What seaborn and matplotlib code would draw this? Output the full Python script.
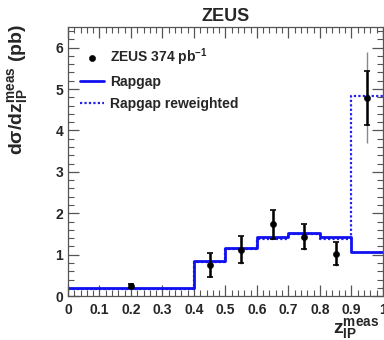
import numpy as np
import pandas as pd
import matplotlib
matplotlib.use("Agg")
import matplotlib.pyplot as plt
import seaborn as sns
from matplotlib.ticker import MultipleLocator

# ---- data ----
bin_edges = [0.0, 0.4, 0.5, 0.6, 0.7, 0.8, 0.9, 1.0]
rapgap = [0.185, 0.85, 1.15, 1.42, 1.53, 1.42, 1.07]
rapgap_rw = [0.18, 0.82, 1.13, 1.38, 1.50, 1.39, 4.83]
data_x = [0.2, 0.45, 0.55, 0.65, 0.75, 0.85, 0.95]
data_y = [0.25, 0.75, 1.12, 1.73, 1.43, 1.02, 4.79]
stat_err = [0.05, 0.29, 0.33, 0.35, 0.30, 0.28, 0.65]
tot_err = [0.06, 0.30, 0.34, 0.36, 0.31, 0.29, 1.10]

sns.set_style("ticks")
plt.rcParams['font.family'] = ['Liberation Sans', 'DejaVu Sans']
plt.rcParams['font.weight'] = 'bold'
plt.rcParams['mathtext.fontset'] = 'custom'
plt.rcParams['mathtext.rm'] = 'Liberation Sans:bold'
plt.rcParams['mathtext.it'] = 'Liberation Sans:bold'
plt.rcParams['mathtext.bf'] = 'Liberation Sans:bold'

fig = plt.figure(figsize=(3.84, 3.40), dpi=100)
ax = fig.add_axes([0.177, 0.129, 0.82, 0.792])

centers = [(a + b) / 2 for a, b in zip(bin_edges[:-1], bin_edges[1:])]
df = pd.DataFrame({"x": centers, "mc": rapgap, "rw": rapgap_rw})

sns.histplot(data=df, x="x", weights="rw", bins=bin_edges, element="step",
             fill=False, color="#2020ee", linestyle=(0, (1, 1)), linewidth=1.6,
             ax=ax, label="Rapgap reweighted")
sns.histplot(data=df, x="x", weights="mc", bins=bin_edges, element="step",
             fill=False, color="#1010f0", linewidth=2.0, ax=ax, label="Rapgap")

# total errors (gray), stat errors (black)
ax.errorbar(data_x, data_y, yerr=tot_err, fmt="none", ecolor="#888888",
            elinewidth=1.0, capsize=0, zorder=4)
ax.errorbar(data_x, data_y, yerr=stat_err, fmt="none", ecolor="black",
            elinewidth=1.8, capsize=2.5, capthick=1.2, zorder=5)
sns.scatterplot(x=data_x, y=data_y, color="black", s=20, edgecolor="black",
                zorder=6, ax=ax, label="ZEUS 374 pb$^{-1}$")

ax.set_xlim(0, 1)
ax.set_ylim(0, 6.5)
ax.xaxis.set_major_locator(MultipleLocator(0.1))
ax.xaxis.set_minor_locator(MultipleLocator(0.02))
ax.yaxis.set_major_locator(MultipleLocator(1))
ax.yaxis.set_minor_locator(MultipleLocator(0.2))
ax.tick_params(which="both", direction="in", top=True, right=True,
               labelsize=10, color="#555555")
ax.tick_params(which="major", length=8, width=0.9)
ax.tick_params(which="minor", length=4, width=0.8)
ax.tick_params(axis="x", pad=5)
ax.set_xticks(np.arange(0, 1.01, 0.1))
ax.set_xticklabels(["0", "0.1", "0.2", "0.3", "0.4", "0.5", "0.6", "0.7",
                    "0.8", "0.9", "1"])
for lab in ax.get_xticklabels() + ax.get_yticklabels():
    lab.set_fontweight("bold")
for sp in ax.spines.values():
    sp.set_color("#555555")
    sp.set_linewidth(0.9)

ax.set_xlabel("")
ax.set_ylabel("")
fig.text(0.046, 0.93, r"d$\sigma$/dz$_{\mathrm{IP}}^{\mathrm{meas}}$ (pb)",
         fontsize=14, fontweight="bold", rotation=90, ha="center", va="top")
fig.text(0.867, 0.02, r"z$_{\mathrm{IP}}^{\mathrm{meas}}$", fontsize=14,
         fontweight="bold", ha="left", va="baseline")
ax.set_title("ZEUS", fontsize=13, fontweight="bold", pad=4)

handles, labels = ax.get_legend_handles_labels()
order = [labels.index("ZEUS 374 pb$^{-1}$"), labels.index("Rapgap"),
         labels.index("Rapgap reweighted")]
leg = ax.legend([handles[i] for i in order], [labels[i] for i in order],
                loc="upper left", bbox_to_anchor=(0.0, 0.975), frameon=False,
                fontsize=10, handlelength=1.7, handletextpad=0.45,
                labelspacing=0.55)
for t in leg.get_texts():
    t.set_fontweight("bold")

fig.savefig("out.png", dpi=100)
